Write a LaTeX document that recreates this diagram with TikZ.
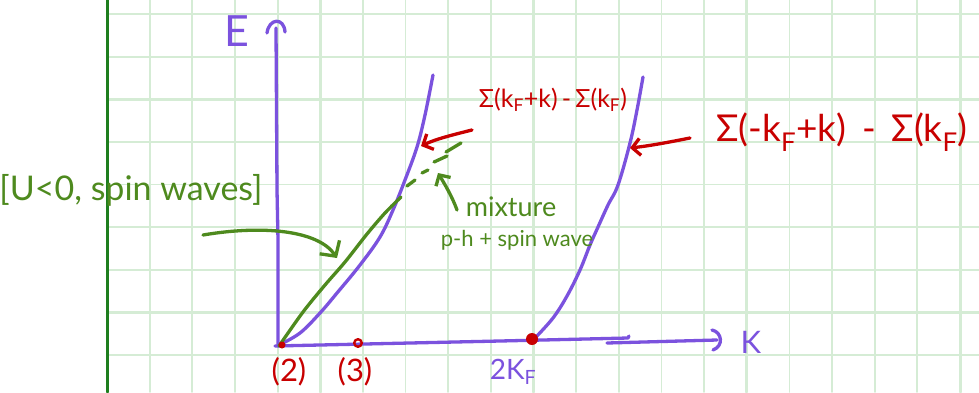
\documentclass[tikz,border=0pt]{standalone}
\usepackage{fontspec}
\setmainfont{Lato}
\usetikzlibrary{arrows.meta}
\definecolor{pur}{HTML}{7B52DE}
\definecolor{rd}{HTML}{C80000}
\definecolor{gr}{HTML}{4E8A1E}
\definecolor{gridc}{HTML}{D5ECD5}
\definecolor{margc}{HTML}{1E7E1E}
\begin{document}
\begin{tikzpicture}[x=1pt,y=-1pt,line cap=round,line join=round,
  pen/.style={line width=3.3pt},
  hw/.style={inner sep=0pt},
  barb/.style={-{Straight Barb[length=8pt,width=17pt]}},
  bigbarb/.style={-{Straight Barb[length=11pt,width=24pt]}}]
\useasboundingbox (0,0) rectangle (979,392);
\fill[white] (0,0) rectangle (979,392);
% grid
\foreach \i in {1,...,20}{
  \pgfmathsetmacro\xx{107+42.65*\i}
  \pgfmathtruncatemacro\m{mod(\i,5)}
  \ifnum\m=0
    \draw[gridc,line width=3pt] (\xx,0) -- (\xx,392);
  \else
    \draw[gridc,line width=1.8pt] (\xx,0) -- (\xx,392);
  \fi}
\foreach \j in {0,...,8}{
  \pgfmathsetmacro\yy{14+42.6*\j}
  \pgfmathtruncatemacro\m{mod(\j,5)}
  \ifnum\m=2
    \draw[gridc,line width=3pt] (108,\yy) -- (979,\yy);
  \else
    \draw[gridc,line width=1.8pt] (108,\yy) -- (979,\yy);
  \fi}
\draw[margc,line width=3pt] (107,0) -- (107,392);

% axes
\coordinate (O) at (278,345);
\coordinate (Etop) at (276,28);
\draw[pur,pen] (O) -- (278,240) -- (277,190) -- (Etop);
\draw[pur,pen] (267,33) .. controls (269,18) and (284,17) .. (285,32);
\coordinate (Kend) at (717,340);
\draw[pur,pen] (275,346) -- (500,341) -- (628,338) -- (629,336);
\draw[pur,pen] (607,343) -- (Kend);
\draw[pur,pen] (712,330) .. controls (722,332) and (724,346) .. (713,350);
\node[hw,pur,font=\fontsize{43}{43}\selectfont] (Elab) at (237,31) {E};
\node[hw,pur,font=\fontsize{31}{31}\selectfont] (Klab) at (751,342) {K};

% curves
\draw[pur,pen] plot[smooth,tension=0.6] coordinates {(279,345) (300,333) (320,313) (337,293) (360,265) (380,237) (393,210) (405,180) (417,147) (425,115) (433,75)};
\coordinate (inner) at (421,146);
\draw[pur,pen] plot[smooth,tension=0.6] coordinates {(535,338) (553,318) (567,296) (580,270) (590,245) (598,227) (608,205) (618,185) (630,143) (637,110) (643,77)};
\coordinate (outer) at (630,148);

% spin wave
\draw[gr,pen] plot[smooth,tension=0.5] coordinates {(279,346) (303,312) (325,285) (345,262) (367,234) (385,213) (401,197)};
\draw[gr,pen] (407,186) -- (415,180);
\draw[gr,pen] (422,173) -- (428,170);
\draw[gr,pen] (434,162) -- (447,156);
\coordinate (dashend) at (461,143);
\draw[gr,pen] (446,152) -- (dashend);
\coordinate (mixtip) at (438,173);

% dots
\fill[rd] (282,345) circle (3.5);
\draw[rd,line width=2.4pt] (358,343) circle (3.8);
\fill[rd] (532,339) circle (6);

% labels
\node[hw,rd,font=\fontsize{31}{31}\selectfont] (l2) at (289,372) {(2)};
\node[hw,rd,font=\fontsize{31}{31}\selectfont] (l3) at (355,372) {(3)};
\node[hw,pur,font=\fontsize{28}{28}\selectfont] (l2kf) at (513,372) {2K\textsubscript{F}};
\node[hw,gr,font=\fontsize{34}{34}\selectfont] (uspin) at (131,190) {[U<0, spin waves]};
\node[hw,gr,font=\fontsize{27}{27}\selectfont] (mix) at (511,207) {mixture};
\node[hw,gr,font=\fontsize{22}{22}\selectfont] (ph) at (517,240) {p-h + spin wave};
\node[hw,rd,font=\fontsize{25}{25}\selectfont] (sig1) at (553,100) {Σ(k\textsubscript{F}+k)\,-\,Σ(k\textsubscript{F})};
\node[hw,rd,font=\fontsize{37}{37}\selectfont] (sig2) at (842,132) {Σ(-k\textsubscript{F}+k)\, -\, Σ(k\textsubscript{F})};

% arrows
\coordinate (a1s) at (472,130);
\draw[rd,pen,barb] (a1s) .. controls (452,135) and (436,139) .. (inner);
\coordinate (a2s) at (690,138);
\draw[rd,pen,barb] (a2s) .. controls (665,143) and (648,146) .. (outer);
\coordinate (g1s) at (203,235);
\coordinate (g1t) at (337,258);
\draw[gr,pen,bigbarb] (g1s) .. controls (262,225) and (318,230) .. (g1t);
\coordinate (g2s) at (457,210);
\draw[gr,pen,barb] (g2s) .. controls (452,196) and (444,183) .. (mixtip);
\end{tikzpicture}
\end{document}
